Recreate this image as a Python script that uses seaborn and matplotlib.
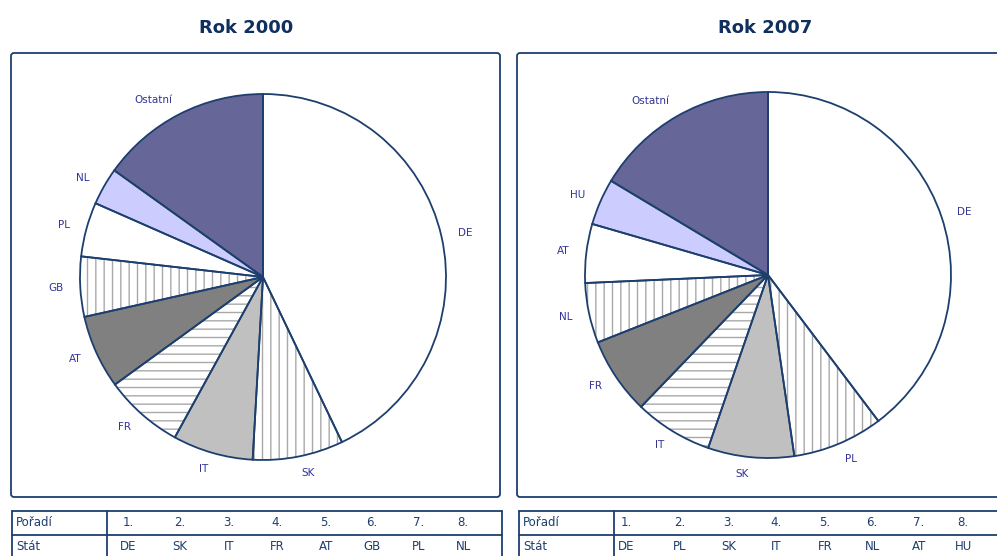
import matplotlib
matplotlib.use("Agg")
import matplotlib.pyplot as plt
import seaborn as sns
from matplotlib.patches import FancyBboxPatch

sns.set_style("white")
plt.rcParams['font.family'] = ['DejaVu Sans']
plt.rcParams['hatch.linewidth'] = 1.0

# data (shares in %)
years = ["Rok 2000", "Rok 2007"]
labels_2000 = ["DE", "SK", "IT", "FR", "AT", "GB", "PL", "NL", "Ostatní"]
values_2000 = [42.9, 8.0, 7.1, 7.0, 6.5, 5.3, 4.8, 3.3, 15.1]
labels_2007 = ["DE", "PL", "SK", "IT", "FR", "NL", "AT", "HU", "Ostatní"]
values_2007 = [39.7, 8.0, 7.6, 6.9, 6.8, 5.3, 5.2, 4.1, 16.4]
ranks = ["1.", "2.", "3.", "4.", "5.", "6.", "7.", "8."]

# slot styles (same by rank in both pies)
fills = ["white", "white", "#c0c0c0", "white", "#808080", "white", "white", "#ccccff", "#666699"]
hatches = [None, "||", None, "--", None, "||", None, None, None]
navy = "#1d3f6e"
label_col = "#333399"

W, H = 997, 556
fig = plt.figure(figsize=(W / 100, H / 100), dpi=100)

# background axes in pixel coordinates for boxes, titles and tables
bg = fig.add_axes([0, 0, 1, 1])
bg.set_xlim(0, W)
bg.set_ylim(H, 0)
bg.axis("off")

boxes = [(11, 53, 489, 444), (517, 53, 500, 444)]
for (x, y, w, h) in boxes:
    bg.add_patch(FancyBboxPatch((x, y), w, h, boxstyle="round,pad=0,rounding_size=3",
                                fc="white", ec=navy, lw=1.3))

title_x = [246, 765]
for tx, t in zip(title_x, years):
    bg.text(tx, 28, t, ha="center", va="center", fontsize=13, fontweight="bold", color="#0f2f5f")

# tables
tables = [(12, 502, 107, [128, 180, 229, 277, 326, 372, 419, 463], labels_2000),
          (519, 1010, 614, [626, 680, 729, 776, 825, 872, 919, 963], labels_2007)]
for (x0, x1, xdiv, xs, labs) in tables:
    bg.plot([x0, x1], [511, 511], color=navy, lw=1.3)
    bg.plot([x0, x1], [535, 535], color=navy, lw=1.3)
    bg.plot([x0, x0], [511, 560], color=navy, lw=1.3)
    bg.plot([xdiv, xdiv], [511, 560], color=navy, lw=1.3)
    if x1 < W:
        bg.plot([x1, x1], [511, 560], color=navy, lw=1.3)
    bg.text(x0 + 4, 523, "Pořadí", ha="left", va="center", fontsize=8.5, color=navy)
    bg.text(x0 + 4, 547, "Stát", ha="left", va="center", fontsize=8.5, color=navy)
    for xx, r, lab in zip(xs, ranks, labs[:8]):
        bg.text(xx, 523, r, ha="center", va="center", fontsize=8.5, color=navy)
        bg.text(xx, 547, lab, ha="center", va="center", fontsize=8.5, color=navy)

# pies
centers = [(263, 277), (768, 275)]
R = 183
for (cx, cy), labs, vals in zip(centers, [labels_2000, labels_2007], [values_2000, values_2007]):
    ax = fig.add_axes([(cx - R) / W, 1 - (cy + R) / H, 2 * R / W, 2 * R / H])
    # fills + hatches
    wedges, _ = ax.pie(vals, startangle=90, counterclock=False, colors=fills,
                       wedgeprops=dict(linewidth=0, edgecolor="#a8a8a8"))
    for wdg, hh in zip(wedges, hatches):
        if hh:
            wdg.set_hatch(hh)
    # outlines + labels
    ax.pie(vals, startangle=90, counterclock=False, labels=labs, labeldistance=1.09,
           wedgeprops=dict(fill=False, linewidth=1.3, edgecolor=navy),
           textprops=dict(fontsize=7.5, color=label_col))
    ax.set_xlim(-1, 1)
    ax.set_ylim(-1, 1)
    ax.set_aspect("equal")

fig.savefig("out.png", dpi=100)
